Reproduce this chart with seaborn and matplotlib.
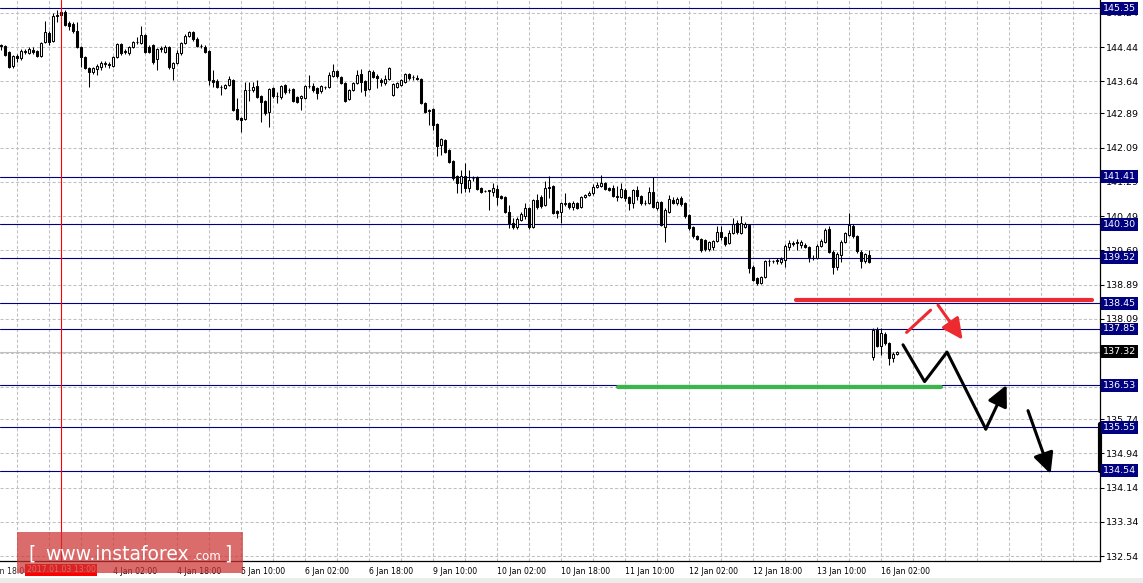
import numpy as np
import pandas as pd
import matplotlib
matplotlib.use("Agg")
import matplotlib.pyplot as plt
import matplotlib.transforms as mtransforms
from matplotlib.patches import Rectangle
import seaborn as sns

# H1 candles, 2 Jan 2017 late -> 16 Jan 06:00 (index = hour bar)
opens = [
    144.49, 144.47, 144.33, 144.00, 144.23, 144.19, 144.33, 144.31, 144.37, 144.35,
    144.23, 144.56, 144.77, 144.59, 145.17, 145.19, 145.26, 145.01, 144.98, 144.82,
    144.45, 144.21, 143.95, 143.86, 143.93, 143.98, 144.05, 144.05, 144.00, 144.21,
    144.51, 144.33, 144.31, 144.45, 144.56, 144.54, 144.73, 144.45, 144.49, 144.16,
    144.40, 144.33, 144.45, 143.95, 144.07, 144.31, 144.54, 144.70, 144.80, 144.63,
    144.47, 144.45, 144.35, 143.67, 143.65, 143.51, 143.49, 143.56, 143.67, 143.00,
    142.78, 142.76, 143.44, 143.44, 143.53, 143.30, 143.18, 142.93, 143.49, 143.30,
    143.28, 143.56, 143.44, 143.46, 143.28, 143.25, 143.25, 143.53, 143.53, 143.49,
    143.42, 143.51, 143.51, 143.77, 143.88, 143.74, 143.60, 143.23, 143.44, 143.60,
    143.81, 143.65, 143.46, 143.86, 143.77, 143.67, 143.60, 143.70, 143.32, 143.51,
    143.56, 143.63, 143.81, 143.74, 143.72, 143.70, 143.14, 142.95, 143.00, 142.64,
    142.15, 142.27, 142.04, 141.78, 141.43, 141.26, 141.43, 141.15, 141.38, 141.40,
    141.15, 141.08, 141.08, 141.05, 141.12, 140.96, 140.94, 140.59, 140.33, 140.24,
    140.40, 140.49, 140.68, 140.24, 140.87, 140.94, 140.75, 141.17, 141.19, 140.61,
    140.59, 140.77, 140.80, 140.70, 140.80, 140.70, 140.94, 140.98, 141.03, 141.17,
    141.19, 141.26, 141.15, 141.15, 140.94, 140.94, 141.10, 140.94, 140.80, 141.10,
    140.96, 140.80, 140.80, 141.05, 140.68, 140.82, 140.24, 140.59, 140.87, 140.80,
    140.91, 140.80, 140.52, 140.24, 140.03, 139.95, 139.93, 139.72, 139.77, 139.91,
    140.12, 140.00, 139.86, 140.10, 140.33, 140.10, 140.24, 140.28, 139.30, 139.04,
    138.93, 139.07, 139.44, 139.44, 139.44, 139.42, 139.46, 139.77, 139.84, 139.89,
    139.81, 139.81, 139.77, 139.51, 139.51, 139.79, 139.89, 140.19, 139.65, 139.30,
    139.58, 139.89, 140.05, 140.26, 140.03, 139.65, 139.44, 139.58, 137.19, 137.83,
    137.45, 137.73, 137.52, 137.17, 137.27,
]
highs = [
    144.51, 144.49, 144.35, 144.26, 144.28, 144.40, 144.40, 144.45, 144.45, 144.37,
    144.56, 145.05, 144.82, 145.24, 145.31, 145.31, 145.31, 145.05, 145.03, 145.03,
    144.47, 144.23, 143.98, 143.98, 144.05, 144.12, 144.12, 144.09, 144.23, 144.54,
    144.54, 144.40, 144.47, 144.59, 144.68, 144.94, 144.75, 144.49, 144.51, 144.42,
    144.47, 144.49, 144.47, 144.09, 144.37, 144.56, 144.75, 144.82, 144.82, 144.68,
    144.51, 144.49, 144.37, 143.91, 143.70, 143.56, 143.58, 143.77, 143.70, 143.25,
    142.81, 143.63, 143.63, 143.63, 143.67, 143.32, 143.21, 143.49, 143.51, 143.39,
    143.56, 143.58, 143.49, 143.49, 143.30, 143.32, 143.56, 143.79, 143.60, 143.51,
    143.56, 143.53, 143.86, 144.05, 143.91, 143.77, 143.63, 143.46, 143.63, 143.91,
    143.93, 143.67, 143.91, 143.91, 143.81, 143.72, 143.79, 143.98, 143.60, 143.63,
    143.70, 143.84, 143.84, 143.79, 143.79, 143.72, 143.16, 143.00, 143.02, 142.67,
    142.32, 142.29, 142.06, 141.80, 141.45, 141.57, 141.73, 141.57, 141.43, 141.43,
    141.17, 141.10, 141.10, 141.26, 141.22, 140.98, 140.96, 140.75, 140.45, 140.47,
    140.59, 140.80, 140.70, 140.89, 141.01, 140.98, 141.31, 141.43, 141.22, 140.63,
    140.82, 141.03, 140.82, 140.84, 140.82, 140.96, 141.01, 141.08, 141.24, 141.29,
    141.45, 141.29, 141.17, 141.22, 141.19, 141.26, 141.15, 140.96, 141.12, 141.19,
    140.98, 140.87, 141.17, 141.40, 140.84, 140.84, 140.68, 140.98, 140.94, 140.94,
    140.96, 140.82, 140.54, 140.26, 140.05, 139.98, 139.95, 139.91, 139.93, 140.26,
    140.26, 140.03, 140.17, 140.45, 140.40, 140.49, 140.35, 140.31, 139.35, 139.07,
    139.09, 139.46, 139.49, 139.46, 139.51, 139.53, 139.84, 139.93, 139.91, 139.95,
    139.93, 139.86, 139.79, 139.58, 139.84, 139.95, 140.21, 140.26, 139.70, 139.65,
    139.93, 140.12, 140.56, 140.31, 140.05, 139.70, 139.63, 139.70, 137.87, 137.90,
    137.87, 137.78, 137.55, 137.32, 137.34,
]
lows = [
    144.37, 144.23, 143.95, 143.95, 144.09, 144.14, 144.28, 144.28, 144.28, 144.21,
    144.21, 144.54, 144.49, 144.56, 145.03, 145.17, 144.94, 144.84, 144.77, 144.42,
    143.98, 143.93, 143.51, 143.81, 143.79, 143.91, 143.98, 143.95, 143.98, 144.19,
    144.26, 144.28, 144.26, 144.42, 144.51, 144.51, 144.31, 144.31, 144.05, 143.91,
    144.33, 144.31, 143.93, 143.67, 144.05, 144.26, 144.51, 144.68, 144.59, 144.45,
    144.42, 144.31, 143.56, 143.51, 143.49, 143.32, 143.46, 143.53, 142.95, 142.74,
    142.46, 142.74, 143.18, 143.39, 143.25, 142.69, 142.85, 142.57, 143.25, 143.14,
    143.23, 143.35, 143.37, 143.16, 143.14, 142.97, 143.23, 143.49, 143.39, 143.23,
    143.37, 143.46, 143.49, 143.74, 143.72, 143.58, 143.16, 143.21, 143.42, 143.58,
    143.39, 143.30, 143.44, 143.72, 143.49, 143.53, 143.56, 143.67, 143.30, 143.49,
    143.53, 143.60, 143.67, 143.67, 143.67, 143.11, 142.90, 142.62, 142.50, 141.89,
    141.92, 141.97, 141.73, 141.33, 141.03, 141.03, 141.05, 141.05, 141.31, 141.10,
    141.03, 141.05, 140.63, 140.96, 140.75, 140.89, 140.56, 140.21, 140.19, 140.19,
    140.38, 140.42, 140.19, 140.21, 140.66, 140.68, 140.73, 140.91, 140.54, 140.45,
    140.33, 140.73, 140.66, 140.63, 140.66, 140.68, 140.91, 140.96, 140.98, 141.15,
    141.17, 141.10, 141.08, 140.94, 140.84, 140.91, 140.84, 140.63, 140.68, 140.87,
    140.75, 140.75, 140.77, 140.68, 140.63, 140.26, 139.89, 140.56, 140.77, 140.75,
    140.73, 140.45, 140.17, 139.98, 139.93, 139.65, 139.67, 139.67, 139.70, 139.89,
    139.93, 139.79, 139.84, 140.07, 140.07, 140.07, 140.21, 139.16, 138.97, 138.88,
    138.90, 139.04, 139.32, 139.39, 139.37, 139.37, 139.30, 139.70, 139.79, 139.70,
    139.74, 139.74, 139.42, 139.46, 139.49, 139.77, 139.86, 139.63, 139.14, 139.23,
    139.42, 139.86, 140.03, 139.98, 139.63, 139.28, 139.39, 139.39, 137.12, 137.43,
    137.24, 137.48, 137.01, 137.08, 137.24,
]
closes = [
    144.47, 144.26, 143.98, 144.23, 144.19, 144.35, 144.35, 144.40, 144.33, 144.23,
    144.54, 144.80, 144.56, 145.17, 145.19, 145.26, 144.96, 144.94, 144.82, 144.45,
    144.21, 143.95, 143.86, 143.95, 144.00, 144.07, 144.07, 144.02, 144.21, 144.51,
    144.31, 144.35, 144.45, 144.56, 144.57, 144.73, 144.33, 144.33, 144.09, 144.40,
    144.41, 144.45, 143.98, 144.07, 144.31, 144.54, 144.70, 144.80, 144.63, 144.47,
    144.46, 144.33, 143.67, 143.63, 143.51, 143.50, 143.56, 143.70, 142.97, 142.76,
    142.74, 143.44, 143.45, 143.51, 143.28, 143.16, 142.90, 143.46, 143.30, 143.31,
    143.53, 143.39, 143.43, 143.18, 143.16, 143.30, 143.53, 143.54, 143.44, 143.37,
    143.53, 143.52, 143.79, 143.88, 143.77, 143.60, 143.18, 143.44, 143.60, 143.79,
    143.63, 143.44, 143.88, 143.74, 143.72, 143.63, 143.70, 143.95, 143.58, 143.60,
    143.67, 143.81, 143.72, 143.75, 143.70, 143.14, 142.93, 142.96, 142.62, 142.13,
    142.29, 141.99, 141.76, 141.38, 141.26, 141.43, 141.15, 141.33, 141.37, 141.12,
    141.05, 141.07, 141.09, 141.15, 140.94, 140.91, 140.59, 140.33, 140.24, 140.42,
    140.54, 140.68, 140.24, 140.87, 140.70, 140.73, 141.15, 141.15, 140.56, 140.56,
    140.80, 140.80, 140.70, 140.80, 140.68, 140.94, 140.98, 141.03, 141.17, 141.22,
    141.26, 141.12, 141.10, 140.96, 140.95, 141.12, 140.91, 140.80, 141.10, 140.96,
    140.80, 140.79, 141.05, 140.70, 140.82, 140.28, 140.63, 140.89, 140.80, 140.89,
    140.77, 140.49, 140.21, 140.03, 139.95, 139.70, 139.72, 139.89, 139.91, 140.12,
    140.00, 139.84, 140.10, 140.31, 140.12, 140.33, 140.31, 139.28, 139.00, 138.93,
    139.07, 139.44, 139.45, 139.43, 139.46, 139.49, 139.79, 139.86, 139.86, 139.86,
    139.89, 139.77, 139.53, 139.52, 139.79, 139.91, 140.17, 139.65, 139.30, 139.60,
    139.89, 140.10, 140.28, 140.03, 139.67, 139.44, 139.60, 139.42, 137.83, 137.45,
    137.76, 137.52, 137.17, 137.27, 137.32,
]

# the 3 Jan 10:00 label sits under the red date box, so it stays blank
time_ticks = [12, 28, 44, 60, 76, 92, 108, 124, 140, 156, 172, 188, 204, 220]
time_labels = ["", "4 Jan 02:00", "4 Jan 18:00", "5 Jan 10:00",
               "6 Jan 02:00", "6 Jan 18:00", "9 Jan 10:00", "10 Jan 02:00",
               "10 Jan 18:00", "11 Jan 10:00", "12 Jan 02:00", "12 Jan 18:00",
               "13 Jan 10:00", "16 Jan 02:00"]
first_label = "2 Jan 18:00"
price_ticks = [145.24, 144.44, 143.64, 142.89, 142.09, 141.29, 140.49, 139.69,
               138.89, 138.09, 137.29, 136.49, 135.74, 134.94, 134.14, 133.34, 132.54]
hidden_ticks = [137.29, 136.49]
levels = [145.35, 141.41, 140.30, 139.52, 138.45, 137.85, 136.53, 135.55, 134.54]
bid = 137.32
marker_bar = 15
marker_text = "2017.01.03 13:00"

# hand-drawn forecast
red_level_x = [198.75, 272.75]
red_level_y = [138.53, 138.53]
green_level_x = [154.25, 235.0]
green_level_y = [136.50, 136.50]
red_swing_x = [226.4, 232.4]
red_swing_y = [137.77, 138.29]
red_arrow = [(234.25, 138.41), (240.4, 137.60)]
black_path_x = [225.5, 230.9, 236.5, 246.2]
black_path_y = [137.48, 136.62, 137.31, 135.51]
black_arrow1 = [(246.2, 135.51), (251.4, 136.54)]
black_arrow2 = [(256.75, 135.94), (262.4, 134.46)]

W, H = 1143, 583
sns.set_style("white")
plt.rcParams["font.family"] = ["DejaVu Sans"]

fig = plt.figure(figsize=(W / 100, H / 100), dpi=100)
ax = fig.add_axes([0, 22 / H, 1100 / W, 561 / H])
ax.set_xlim(-0.25, 274.75)
ax.set_ylim(132.424, 145.544)
ax.set_axisbelow(True)

df = pd.DataFrame({"open": opens, "high": highs, "low": lows, "close": closes})
df["bar"] = np.arange(len(df))
up = df["close"] >= df["open"]
body = (df["close"] - df["open"]).abs().clip(lower=0.005)

# grid
ax.set_xticks(time_ticks)
ax.set_xticklabels(time_labels)
ax.set_xticks(np.arange(4, 272, 8), minor=True)
ax.set_yticks(price_ticks)
ax.set_yticklabels(["" if p in hidden_ticks else f"{p:.2f}" for p in price_ticks])
ax.grid(which="both", color="#c0c0c0", lw=0.75, linestyle=(0, (3, 2)))
ax.yaxis.tick_right()
ax.tick_params(axis="x", which="major", length=3, width=0.75, pad=1.5,
               labelsize=5.6, colors="black")
ax.tick_params(axis="x", which="minor", length=0)
ax.tick_params(axis="y", length=3, width=0.75, pad=1.5, labelsize=6.8,
               colors="black")
for lab in ax.get_xticklabels():
    lab.set_horizontalalignment("left")
for side in ["top", "left"]:
    ax.spines[side].set_visible(False)
for side in ["right", "bottom"]:
    ax.spines[side].set_color("black")
    ax.spines[side].set_linewidth(0.9)

# levels
for lv in levels:
    ax.axhline(lv, color="#000080", lw=0.8, zorder=2)
ax.axhline(bid, color="#c0c0c0", lw=0.8, zorder=2)

# candles
ax.vlines(df["bar"], df["low"], df["high"], color="black", lw=0.75, zorder=3)
ax.bar(df["bar"], body, bottom=df[["open", "close"]].min(axis=1), width=0.5,
       color=np.where(up, "white", "black"), edgecolor="black",
       linewidth=0.75, zorder=4)

ax.axvline(marker_bar, color="#ff0000", lw=0.8, zorder=6)

# forecast drawing
sns.lineplot(x=red_level_x, y=red_level_y, color="#ec2a30", lw=3.0, ax=ax,
             zorder=7, legend=False)
sns.lineplot(x=green_level_x, y=green_level_y, color="#3cb54a", lw=3.0, ax=ax,
             zorder=7, legend=False)
sns.lineplot(x=red_swing_x, y=red_swing_y, color="#ec2a30", lw=2.2, ax=ax,
             zorder=7, legend=False)
sns.lineplot(x=black_path_x, y=black_path_y, sort=False, color="black", lw=2.2,
             ax=ax, zorder=7, legend=False)
astyle = "-|>,head_length=0.45,head_width=0.22"
for (s, e), col in [(red_arrow, "#ec2a30"), (black_arrow1, "black"),
                    (black_arrow2, "black")]:
    ax.annotate("", xy=e, xytext=s,
                arrowprops=dict(arrowstyle=astyle, color=col, lw=2.2,
                                mutation_scale=28, shrinkA=0, shrinkB=0),
                zorder=8)

# price labels on the right
trans = mtransforms.blended_transform_factory(ax.transAxes, ax.transData)
for lv in levels:
    ax.text(1.003, lv, f"{lv:.2f}", transform=trans, ha="left", va="center",
            fontsize=6.8, color="white", clip_on=False, zorder=10,
            bbox=dict(boxstyle="square,pad=0.2", fc="#000080", ec="none"))
ax.text(1.003, bid, f"{bid:.2f}", transform=trans, ha="left", va="center",
        fontsize=6.8, color="white", clip_on=False, zorder=10,
        bbox=dict(boxstyle="square,pad=0.2", fc="black", ec="none"))
ax.plot([1.0, 1.0], [135.62, 134.52], transform=trans, color="black", lw=3,
        clip_on=False, zorder=9)

# time labels
tx = mtransforms.blended_transform_factory(ax.transData, ax.transAxes)
ax.text(-4, -0.0115, first_label, transform=tx, ha="left", va="top",
        fontsize=5.6, clip_on=False)
ax.text(marker_bar, -0.016, marker_text, transform=tx, ha="center",
        va="center", fontsize=5.6, color="white", clip_on=False, zorder=10,
        bbox=dict(boxstyle="square,pad=0.25", fc="#ff0000", ec="none"))

# watermark
def fx(x):
    return x / W


def fy(y):
    return 1 - y / H


fig.add_artist(Rectangle((fx(17), fy(573)), 226 / W, 41 / H,
                         transform=fig.transFigure, fc="#cc3333", ec="none",
                         alpha=0.72, zorder=20))
fig.text(fx(28), fy(560), "[", fontsize=13.5, color="white", va="baseline",
         zorder=21)
fig.text(fx(45), fy(560), "www.instaforex", fontsize=13.5, color="white",
         va="baseline", zorder=21)
fig.text(fx(193), fy(560), ".com", fontsize=8.5, color="white",
         va="baseline", zorder=21)
fig.text(fx(224), fy(560), "]", fontsize=13.5, color="white", va="baseline",
         zorder=21)
fig.add_artist(Rectangle((0, 0), 1, 5 / H, transform=fig.transFigure,
                         fc="#ececec", ec="none", zorder=1))

fig.savefig("out.png", dpi=100)
